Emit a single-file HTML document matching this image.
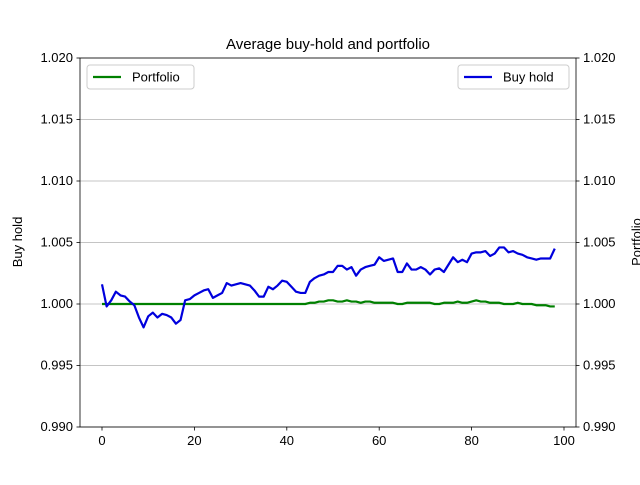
<!DOCTYPE html>
<html><head><meta charset="utf-8"><style>body{margin:0;background:#fff}svg{font-family:"Liberation Sans","DejaVu Sans",sans-serif}</style></head>
<body>
<svg id="c" width="640" height="480" xmlns="http://www.w3.org/2000/svg"></svg>
<script>
const buyHold=[1.0016,0.9998,1.0003,1.0010,1.0007,1.0006,1.0002,0.9999,0.9989,0.9981,0.9990,0.9993,0.9989,0.9992,0.9991,0.9989,0.9984,0.9987,1.0003,1.0004,1.0007,1.0009,1.0011,1.0012,1.0005,1.0007,1.0009,1.0017,1.0015,1.0016,1.0017,1.0016,1.0015,1.0011,1.0006,1.0006,1.0014,1.0012,1.0015,1.0019,1.0018,1.0014,1.0010,1.0009,1.0009,1.0018,1.0021,1.0023,1.0024,1.0026,1.0026,1.0031,1.0031,1.0028,1.0030,1.0023,1.0028,1.0030,1.0031,1.0032,1.0038,1.0035,1.0036,1.0037,1.0026,1.0026,1.0033,1.0028,1.0028,1.0030,1.0028,1.0024,1.0028,1.0029,1.0026,1.0032,1.0038,1.0034,1.0036,1.0034,1.0041,1.0042,1.0042,1.0043,1.0039,1.0041,1.0046,1.0046,1.0042,1.0043,1.0041,1.0040,1.0038,1.0037,1.0036,1.0037,1.0037,1.0037,1.0045];
const portfolio=[1.0000,1.0000,1.0000,1.0000,1.0000,1.0000,1.0000,1.0000,1.0000,1.0000,1.0000,1.0000,1.0000,1.0000,1.0000,1.0000,1.0000,1.0000,1.0000,1.0000,1.0000,1.0000,1.0000,1.0000,1.0000,1.0000,1.0000,1.0000,1.0000,1.0000,1.0000,1.0000,1.0000,1.0000,1.0000,1.0000,1.0000,1.0000,1.0000,1.0000,1.0000,1.0000,1.0000,1.0000,1.0000,1.0001,1.0001,1.0002,1.0002,1.0003,1.0003,1.0002,1.0002,1.0003,1.0002,1.0002,1.0001,1.0002,1.0002,1.0001,1.0001,1.0001,1.0001,1.0001,1.0000,1.0000,1.0001,1.0001,1.0001,1.0001,1.0001,1.0001,1.0000,1.0000,1.0001,1.0001,1.0001,1.0002,1.0001,1.0001,1.0002,1.0003,1.0002,1.0002,1.0001,1.0001,1.0001,1.0000,1.0000,1.0000,1.0001,1.0000,1.0000,1.0000,0.9999,0.9999,0.9999,0.9998,0.9998];
const yTicks=[0.990,0.995,1.000,1.005,1.010,1.015,1.020];
const xTicks=[0,20,40,60,80,100];
const L=80,R=576,T=58,B=427;
const sx=v=>102+(v-0)*(564-102)/100;
const sy=v=>B-(v-0.990)*(B-T)/0.030;
const svg=document.getElementById('c');
const NS='http://www.w3.org/2000/svg';
function mk(tag,attrs,parent){const e=document.createElementNS(NS,tag);for(const k in attrs)e.setAttribute(k,attrs[k]);(parent||svg).appendChild(e);return e;}
yTicks.forEach(v=>{
 const g=mk('line',{x1:L,x2:R,y1:sy(v),y2:sy(v),stroke:'#b0b0b0','stroke-width':0.8});
 
 
 mk('line',{x1:L-3.5,x2:L,y1:sy(v),y2:sy(v),stroke:'#000','stroke-width':0.8});
 mk('line',{x1:R,x2:R+3.5,y1:sy(v),y2:sy(v),stroke:'#000','stroke-width':0.8});
 const t=mk('text',{x:L-7,y:sy(v)+4,'text-anchor':'end','font-size':13});t.textContent=v.toFixed(3);
 
 
 const t2=mk('text',{x:R+7,y:sy(v)+4,'font-size':13});t2.textContent=v.toFixed(3);
 
 
});
xTicks.forEach(v=>{
 mk('line',{x1:sx(v),x2:sx(v),y1:B,y2:B+3.5,stroke:'#000','stroke-width':0.8});
 const t=mk('text',{x:sx(v),y:B+18,'text-anchor':'middle','font-size':13});t.textContent=v;
 
 
});
function line(data,color,name){
 const p=mk('polyline',{points:data.map((v,i)=>sx(i)+','+sy(v)).join(' '),fill:'none',stroke:color,'stroke-width':2.2,'stroke-linejoin':'round'});
 
 
}
line(portfolio,'#008000','portfolio-line');
line(buyHold,'#0000dd','buy-hold-line');
const fr=mk('rect',{x:L,y:T,width:R-L,height:B-T,fill:'none',stroke:'#000','stroke-width':0.8});


const ti=mk('text',{x:328,y:49,'text-anchor':'middle','font-size':15});ti.textContent='Average buy-hold and portfolio';


const yl=mk('text',{x:22,y:242,'text-anchor':'middle','font-size':13,transform:'rotate(-90 22 242)'});yl.textContent='Buy hold';


const yr=mk('text',{x:641,y:242,'text-anchor':'middle','font-size':13,transform:'rotate(-90 641 242)'});yr.textContent='Portfolio';


function legend(x,w,color,label,name){
 const g=mk('g',{});
 
 
 mk('rect',{x:x,y:65,width:w,height:24,rx:3,fill:'#fff',stroke:'#ccc','stroke-width':1},g);
 mk('line',{x1:x+6,x2:x+34,y1:77,y2:77,stroke:color,'stroke-width':2.2},g);
 const t=mk('text',{x:x+45,y:81.5,'font-size':13},g);t.textContent=label;
}
legend(87,107,'#008000','Portfolio','legend-portfolio');
legend(458,111,'#0000dd','Buy hold','legend-buy-hold');
</script>
</body></html>
